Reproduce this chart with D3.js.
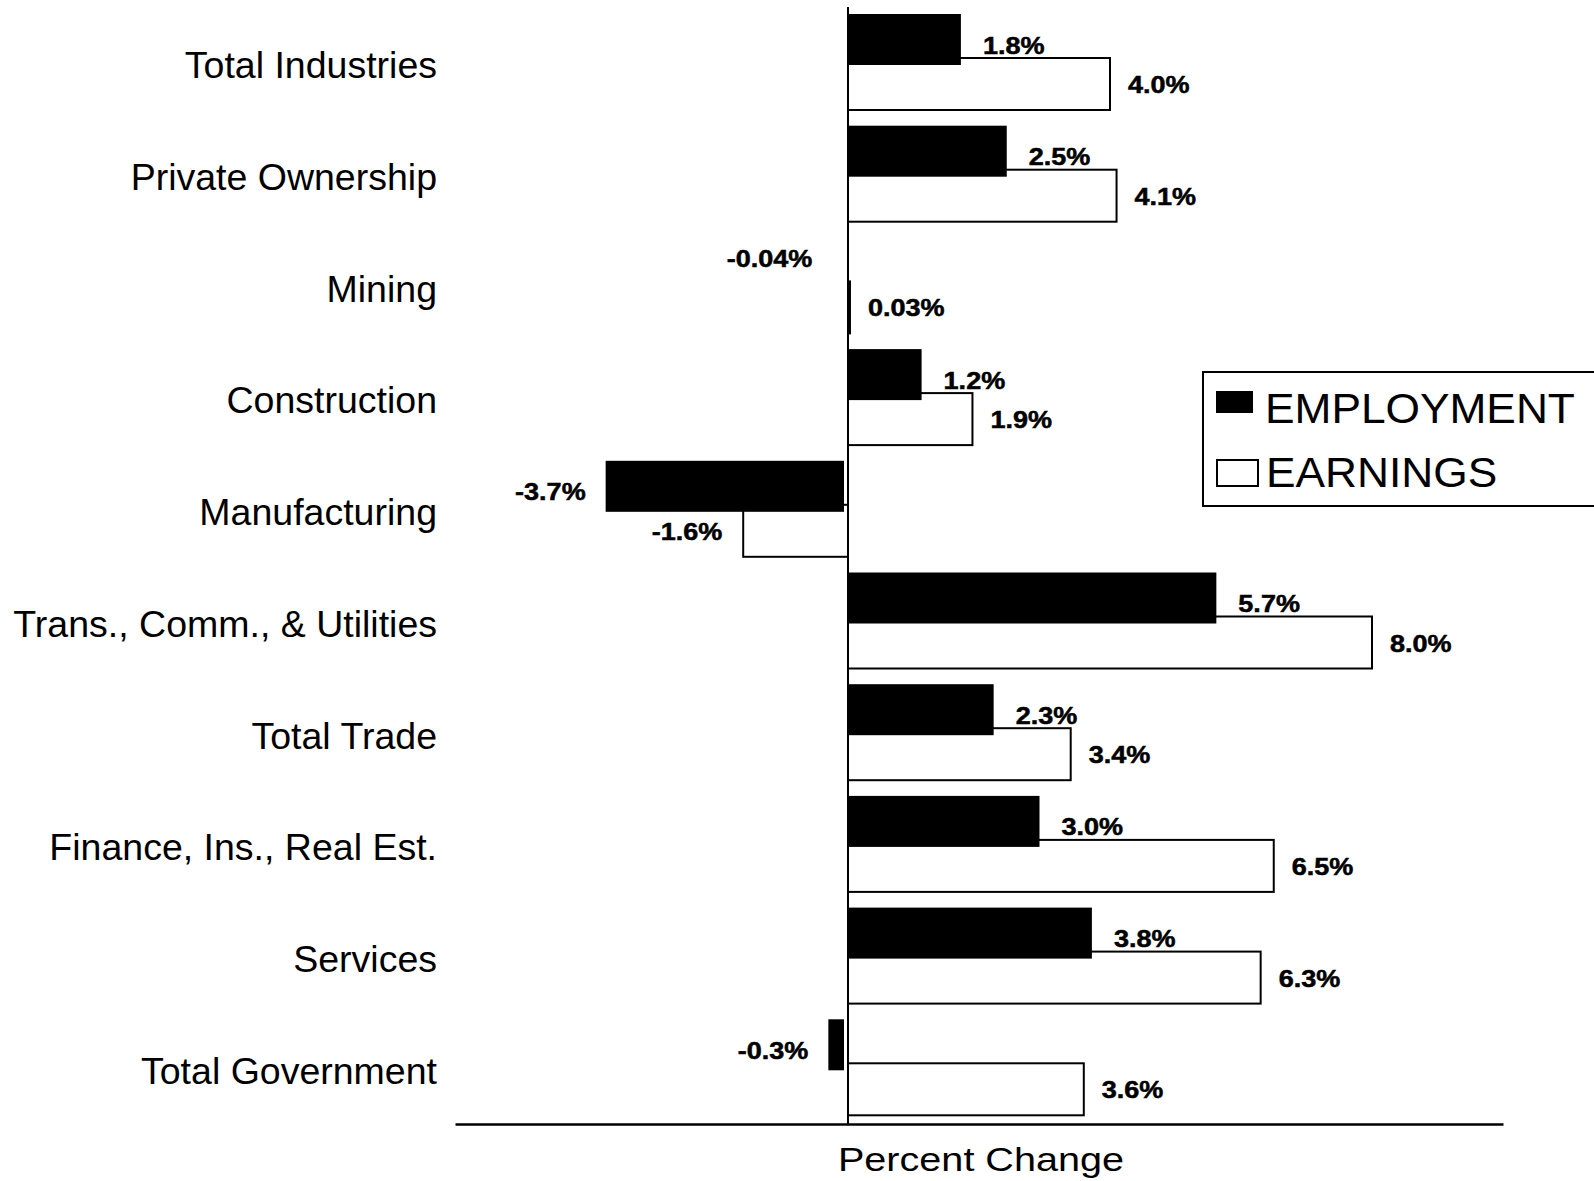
<!DOCTYPE html>
<html lang="en">
<head>
  <meta charset="UTF-8">
  <title>Employment and Earnings - Percent Change</title>
  <script src='https://d3js.org/d3.v7.min.js'></script>
  <style>
    body { margin: 0; background: #fff; }
    text { font-family: 'Liberation Sans', Arial, sans-serif; fill: #000; }
  </style>
</head>
<body>
</body>
<script>
  const categories = [
    'Total Industries', 'Private Ownership', 'Mining', 'Construction', 'Manufacturing',
    'Trans., Comm., & Utilities', 'Total Trade', 'Finance, Ins., Real Est.', 'Services', 'Total Government'
  ];
  const employment = [1.8, 2.5, -0.04, 1.2, -3.7, 5.7, 2.3, 3.0, 3.8, -0.3];
  const earnings = [4.0, 4.1, 0.03, 1.9, -1.6, 8.0, 3.4, 6.5, 6.3, 3.6];
  const seriesNames = ['EMPLOYMENT', 'EARNINGS'];
  const axisTitle = 'Percent Change';

  const width = 1594, height = 1181;

  const svg = d3.select('body').append('svg')
    .attr('width', width).attr('height', height);

  const x = d3.scaleLinear().domain([-6, 10]).range([455, 1503]);
  const y = d3.scaleBand().domain(categories).range([7, 1124]);

  const fmt = v => (Math.abs(v) < 0.1 ? v.toFixed(2) : v.toFixed(1)) + '%';

  // black bars in the original come out a few px short at the axis end
  const empShrink = 5;

  // earnings bars (white, outlined) go underneath
  svg.append('g').selectAll('rect')
    .data(earnings)
    .join('rect')
    .attr('x', d => Math.min(x(0), x(d)))
    .attr('y', (d, i) => y(categories[i]) + 51)
    .attr('width', d => Math.abs(x(d) - x(0)))
    .attr('height', 52)
    .attr('fill', '#fff')
    .attr('stroke', '#000')
    .attr('stroke-width', 2);

  // employment bars (black)
  svg.append('g').selectAll('rect')
    .data(employment)
    .join('rect')
    .attr('x', d => Math.min(x(0), x(d)))
    .attr('y', (d, i) => y(categories[i]) + 7)
    .attr('width', d => Math.max(0, Math.abs(x(d) - x(0)) - (d < 0 ? 4 : empShrink)))
    .attr('height', 51)
    .attr('fill', '#000');

  // zero line
  svg.append('line')
    .attr('x1', x(0)).attr('x2', x(0))
    .attr('y1', 7).attr('y2', 1124)
    .attr('stroke', '#000').attr('stroke-width', 2);

  // bottom axis, no ticks
  svg.append('g')
    .attr('transform', 'translate(0,1124)')
    .call(d3.axisBottom(x).tickValues([]).tickSizeOuter(0))
    .call(g => g.select('.domain').attr('stroke-width', 2.5));

  // value labels
  function valueLabel(g, data, dy, gapPos, gapNeg, baseOff, isEmp) {
    g.selectAll('text')
      .data(data)
      .join('text')
      .attr('text-anchor', d => d < 0 ? 'end' : 'start')
      .attr('transform', (d, i) => {
        let tx = d < 0 ? x(d) - gapNeg : x(d) + gapPos;
        let ty = y(categories[i]) + dy + baseOff;
        // the tiny negative employment label sits up and left of its bar
        if (isEmp && d < 0 && Math.abs(d) < 0.1) { tx -= 13; ty -= 10; }
        return `translate(${tx},${ty}) scale(1.15,1)`;
      })
      .style('font-size', '23.5px')
      .style('font-weight', 'bold')
      .style('stroke', '#000')
      .style('stroke-width', 0.5)
      .text(fmt);
  }
  valueLabel(svg.append('g'), employment, 32.5, 22 - empShrink, 20, 14, true);
  valueLabel(svg.append('g'), earnings, 77, 18, 21, 9, false);

  // category labels
  svg.append('g').selectAll('text')
    .data(categories)
    .join('text')
    .attr('x', 437)
    .attr('y', d => y(d) + y.bandwidth() / 2 + 15.5)
    .attr('text-anchor', 'end')
    .style('font-size', '37.5px')
    .text(d => d);

  // axis title
  svg.append('text')
    .attr('transform', 'translate(981,1171) scale(1.2,1)')
    .attr('text-anchor', 'middle')
    .style('font-size', '33px')
    .text(axisTitle);

  // legend
  const legend = svg.append('g');
  legend.append('rect')
    .attr('x', 1203).attr('y', 372).attr('width', 420).attr('height', 134)
    .attr('fill', '#fff').attr('stroke', '#000').attr('stroke-width', 2);
  legend.append('rect')
    .attr('x', 1216).attr('y', 391).attr('width', 37).attr('height', 22)
    .attr('fill', '#000');
  legend.append('rect')
    .attr('x', 1217).attr('y', 460).attr('width', 41).attr('height', 26)
    .attr('fill', '#fff').attr('stroke', '#000').attr('stroke-width', 2);
  legend.selectAll('text.leg')
    .data(seriesNames)
    .join('text')
    .attr('class', 'leg')
    .attr('transform', (d, i) => i === 0 ? 'translate(1265,423) scale(1.03,1)' : 'translate(1266,487) scale(1.03,1)')
    .style('font-size', '43px')
    .text(d => d);

  console.log('ready..');
</script>
</html>
